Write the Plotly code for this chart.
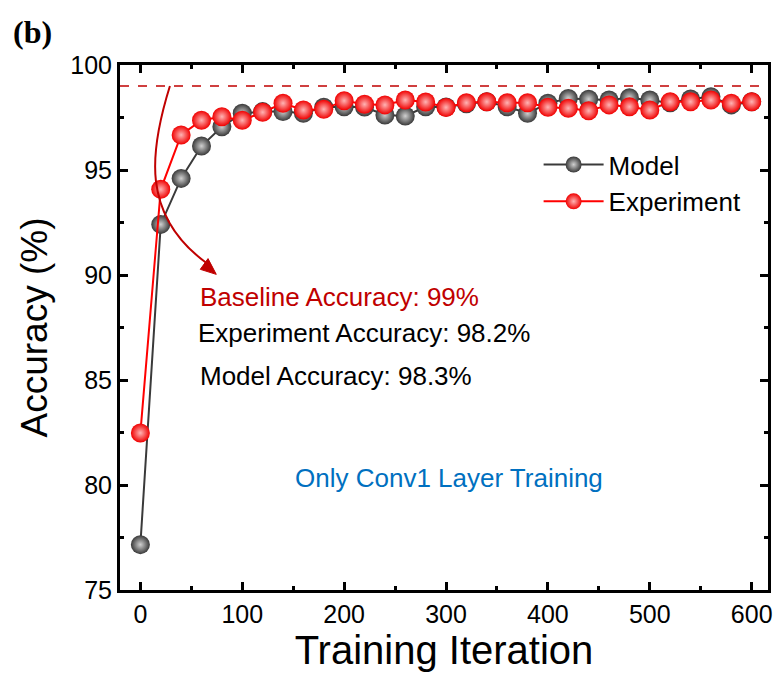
import plotly.graph_objects as go

# Training iterations (x) and accuracy (%) of each run
iterations = list(range(0, 601, 20))

model_acc = [77.16, 92.41, 94.60, 96.14, 97.06, 97.70, 97.78, 97.78, 97.70, 97.99,
             98.01, 98.00, 97.62, 97.57, 98.01, 98.00, 98.15, 98.25, 98.01, 97.70,
             98.18, 98.41, 98.37, 98.33, 98.44, 98.33, 98.20, 98.38, 98.49, 98.10,
             98.25]

experiment_acc = [82.48, 94.08, 96.67, 97.37, 97.54, 97.37, 97.75, 98.18, 97.86, 97.89,
                  98.30, 98.13, 98.10, 98.33, 98.24, 97.98, 98.20, 98.25, 98.20, 98.20,
                  97.99, 97.94, 97.82, 98.10, 98.01, 97.86, 98.25, 98.25, 98.33, 98.18,
                  98.25]

baseline_acc = 99.0
x_ticks = [0, 100, 200, 300, 400, 500, 600]
y_ticks = [75, 80, 85, 90, 95, 100]

SANS = "Liberation Sans, Arial, sans-serif"
SERIF = "Liberation Serif, Times New Roman, serif"
DARK_RED = "#C00000"

fig = go.Figure()

fig.add_trace(go.Scatter(
    x=iterations, y=model_acc, name="Model", mode="lines+markers",
    line=dict(color="#3a3a3a", width=2),
    marker=dict(size=19, color="#383838",
                gradient=dict(type="radial", color="#d0d0d0"),
                line=dict(width=0)),
))
fig.add_trace(go.Scatter(
    x=iterations, y=experiment_acc, name="Experiment", mode="lines+markers",
    line=dict(color="#FF0000", width=2),
    marker=dict(size=19, color="#F00000",
                gradient=dict(type="radial", color="#ffb4b4"),
                line=dict(width=0)),
))

# Baseline reference line
fig.add_shape(type="line", xref="paper", x0=0, x1=1, yref="y",
              y0=baseline_acc, y1=baseline_acc,
              line=dict(color=DARK_RED, width=1.6, dash="dash"))

# Curved pointer from the baseline to its label
fig.add_shape(type="path", xref="x", yref="y",
              path=f"M 29,{baseline_acc} C 9.4,95.95 -0.3,92.86 65.5,90.55",
              line=dict(color=DARK_RED, width=2))
fig.add_shape(type="path", xref="x", yref="y",
              path="M 74.5,90.03 L 58.8,90.27 L 66.4,90.78 Z",
              fillcolor=DARK_RED, line=dict(color=DARK_RED, width=1))

notes = [
    ("Baseline Accuracy: 99%", 57, 88.95, DARK_RED),
    ("Experiment Accuracy: 98.2%", 55, 87.24, "black"),
    ("Model Accuracy: 98.3%", 57, 85.19, "black"),
]
for text, x, y, color in notes:
    fig.add_annotation(x=x, y=y, text=text, showarrow=False, xanchor="left",
                       yanchor="middle", font=dict(family=SANS, size=26, color=color))

fig.add_annotation(x=303, y=80.33, text="Only Conv1 Layer Training", showarrow=False,
                   xanchor="center", yanchor="middle",
                   font=dict(family=SANS, size=26, color="#0070C0"))

fig.add_annotation(xref="paper", yref="paper", x=-0.168, y=1.063, text="<b>(b)</b>",
                   showarrow=False, xanchor="left", yanchor="middle",
                   font=dict(family=SERIF, size=32, color="black"))

axis_common = dict(
    showline=True, linewidth=3, linecolor="black", mirror="allticks",
    ticks="inside", ticklen=8, tickwidth=2.5, tickcolor="black",
    showgrid=False, zeroline=False,
    tickfont=dict(family=SANS, size=25, color="black"),
)

fig.update_xaxes(
    range=[-20, 616], tickvals=x_ticks,
    minor=dict(dtick=50, ticks="inside", ticklen=4, tickwidth=2.5, tickcolor="black"),
    title=dict(text="Training Iteration", font=dict(family=SANS, size=40, color="black"),
               standoff=6),
    **axis_common,
)
fig.update_yaxes(
    range=[75, 100], tickvals=y_ticks,
    minor=dict(dtick=2.5, ticks="inside", ticklen=4, tickwidth=2.5, tickcolor="black"),
    title=dict(text="Accuracy (%)", font=dict(family=SANS, size=37, color="black"),
               standoff=12),
    **axis_common,
)

fig.update_layout(
    width=780, height=678, autosize=False,
    margin=dict(l=120, r=8, t=65, b=88),
    paper_bgcolor="white", plot_bgcolor="white",
    showlegend=True,
    legend=dict(x=0.646, y=0.855, xanchor="left", yanchor="top",
                bgcolor="rgba(0,0,0,0)", font=dict(family=SANS, size=26, color="black"),
                itemwidth=60, tracegroupgap=0),
)

fig.write_html("out.html")
